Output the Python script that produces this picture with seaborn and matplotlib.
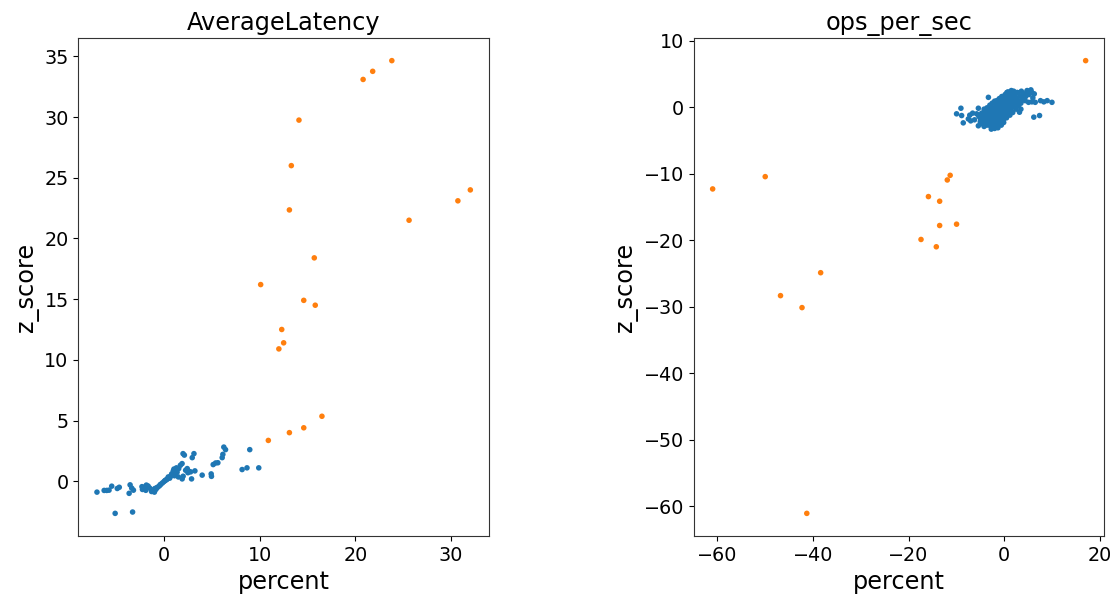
import matplotlib
matplotlib.use("Agg")
import matplotlib.pyplot as plt
import seaborn as sns
import pandas as pd

# ---------------- AverageLatency ----------------
lat_normal_x = [-7.0, -6.25, -5.98, -5.74, -5.46, -4.88, -4.67, -5.1, -3.64, -3.54,
                -3.37, -3.19, -3.28, -2.25, -2.08, -1.84, -1.66, -1.49, -1.2, -1.0,
                -0.85, -0.68, -0.5, -0.33, -0.16, 0.0, 0.17, 0.35, 0.52, 0.69,
                0.87, 0.97, 1.04, 1.2, 1.37, 1.54, 1.71, 1.89, 1.99, 2.13,
                1.9, 2.0, 2.26, 2.43, 2.6, 2.78, 2.88, 2.95, 3.13, 3.23,
                3.99, 4.93, 4.96, 5.14, 5.39, 5.63, 6.08, 6.15, 6.25, 6.43,
                8.96, 8.16, 8.67, 9.9, -1.3, -1.1, -0.95, -0.75, -0.4, 0.1,
                0.3, 0.6, 0.8, 1.1, 1.5, -2.3, -1.9, 0.45, 1.3, 2.5]
lat_normal_y = [-0.9, -0.76, -0.76, -0.74, -0.41, -0.6, -0.5, -2.65, -1.0, -0.3,
                -0.57, -0.74, -2.54, -0.68, -0.5, -0.32, -0.4, -0.57, -0.79, -0.9,
                -0.68, -0.5, -0.4, -0.25, -0.14, -0.03, 0.08, 0.19, 0.3, 0.41,
                0.57, 0.85, 1.0, 0.57, 0.74, 1.04, 1.31, 1.45, 2.27, 2.15,
                0.19, 0.41, 0.9, 1.04, 0.82, 0.77, 0.19, 1.94, 2.27, 0.85,
                0.5, 0.6, 0.4, 1.37, 1.5, 1.52, 1.94, 2.21, 2.81, 2.6,
                2.6, 0.96, 1.1, 1.1, -0.85, -0.7, -0.6, -0.55, -0.3, 0.05,
                0.15, 0.25, 0.6, 0.45, 0.35, -0.45, -0.75, 0.35, 1.1, 0.7]
lat_outlier_x = [23.8, 21.8, 20.8, 14.1, 13.3, 13.1, 32.0, 30.7, 25.6, 15.7,
                 10.1, 14.6, 15.8, 12.3, 12.5, 12.0, 10.9, 13.1, 14.6, 16.5]
lat_outlier_y = [34.65, 33.77, 33.1, 29.75, 26.0, 22.35, 24.0, 23.1, 21.5, 18.4,
                 16.2, 14.9, 14.5, 12.5, 11.4, 10.9, 3.36, 4.0, 4.4, 5.35]

# ---------------- ops_per_sec ----------------
ops_normal_x = [-9.96, -9.05, -8.9, -8.56, -7.5, -7.0, -5.75, -5.4, -5.4, -3.3,
                0.56, 2.67, 3.7, 4.8, 5.5, 5.8, 7.6, 8.3, 9.0, 10.0,
                3.2, 6.2, 7.4, 4.4, 5.1, 5.8, 6.5,
                -4.9, -4.6, -4.4, -4.2, -4.0, -3.9, -3.7, -3.6, -3.4, -3.3,
                -3.1, -3.0, -2.9, -2.8, -2.7, -2.6, -2.5, -2.4, -2.3, -2.2,
                -2.1, -2.0, -1.9, -1.8, -1.7, -1.6, -1.5, -1.4, -1.3, -1.2,
                -1.1, -1.0, -0.9, -0.8, -0.7, -0.6, -0.5, -0.4, -0.3, -0.2,
                -0.1, 0.0, 0.1, 0.2, 0.3, 0.4, 0.5, 0.6, 0.7, 0.8,
                0.9, 1.0, 1.1, 1.2, 1.3, 1.4, 1.5, 1.6, 1.7, 1.8,
                1.9, 2.0, 2.2, 2.4, 2.6, 2.8, 3.0, 3.3, 3.6, 3.9,
                4.2, 4.5, 4.8, 5.2, 5.6, 6.0, 6.3,
                -3.5, -2.6, -2.0, -1.5, -1.0, -0.5, 0.0, 0.5, 1.0, -3.8,
                -2.9, -1.9, -1.1, -0.2, 0.3, 1.5, -4.3, -3.2, -2.3, -1.6,
                -0.7, 0.8, 2.3, -5.3, -6.2, -6.6, -7.2,
                -3.0, -2.5, -2.0, -1.5, -1.0, -0.5, 0.2, 0.8, 1.5, -3.6,
                -4.2, -2.8, -1.8, -1.2, -0.6, 0.0, 0.6, 1.2, 2.0, 2.5,
                3.0, 3.5, 1.8, 1.2, 0.5, -0.1, -0.6, -1.3, -2.0, 3.5,
                -4.7, -3.3, -2.2, -1.4, -0.3, 1.0, 2.7, 4.0, -5.0, -2.7]
ops_normal_y = [-1.0, -0.16, -1.26, -2.36, -1.77, -2.06, -1.0, -0.16, -2.8, 1.48,
                2.2, 2.2, 1.7, 2.5, 2.5, 2.2, 0.98, 0.8, 0.98, 0.73,
                -0.76, -1.5, -1.26, 0.98, 0.73, 0.8, 0.73,
                -1.9, -2.5, -1.3, -2.9, -2.1, -0.8, -1.6, -2.7, -2.3, -1.2,
                -0.4, -1.9, -2.8, -1.5, -0.9, -2.2, -3.0, -1.7, -0.6, -2.5,
                -1.2, -2.0, -0.2, -1.6, -2.7, -0.9, -2.2, -1.4, 0.3, -1.9,
                -0.5, -2.4, -1.1, 0.1, -1.7, -0.7, -2.1, 0.5, -1.3, -0.3,
                -1.8, 0.8, -0.9, 0.2, -1.5, 1.2, -0.4, 0.6, -1.1, 1.5,
                0.0, 0.9, -0.6, 1.8, 0.4, 1.3, -0.2, 2.0, 0.8, 1.5,
                0.1, 1.1, 1.9, 0.6, 1.4, 2.2, 1.0, 1.7, 2.4, 1.3,
                2.0, 1.6, 2.4, 1.9, 2.6, 1.4, 2.0,
                -1.0, -1.3, -1.0, -0.4, -1.4, -0.9, -0.6, 0.1, 0.3, -2.4,
                -1.0, -2.6, -1.7, -1.4, 0.7, 0.9, -1.7, -2.5, -2.9, -1.8,
                -2.3, -0.5, 1.2, -1.4, -1.9, -0.9, -1.2,
                0.3, 0.6, 0.9, 1.0, 1.3, 1.6, 1.9, 2.3, 2.5, -0.1,
                -0.3, 0.1, 0.4, 0.7, 1.0, 1.4, 1.7, 2.1, 2.4, -0.3,
                0.2, 0.6, -0.8, -1.2, -1.6, -2.3, -2.7, -3.1, -3.2, -0.3,
                -0.9, -0.5, -0.2, -0.1, 0.3, 0.5, 0.9, 1.1, -2.2, -3.3]
ops_outlier_x = [17.05, -61.0, -50.0, -46.8, -42.3, -38.4, -41.3,
                 -11.3, -11.9, -15.85, -13.5, -13.5, -9.96, -17.4, -14.2]
ops_outlier_y = [7.0, -12.3, -10.45, -28.35, -30.15, -24.9, -61.1,
                 -10.25, -10.95, -13.45, -14.15, -17.8, -17.6, -19.9, -21.0]

titles = ["AverageLatency", "ops_per_sec"]


def make_df(nx, ny, ox, oy):
    return pd.DataFrame({
        "percent": list(nx) + list(ox),
        "z_score": list(ny) + list(oy),
        "group": ["normal"] * len(nx) + ["outlier"] * len(ox),
    })


frames = [make_df(lat_normal_x, lat_normal_y, lat_outlier_x, lat_outlier_y),
          make_df(ops_normal_x, ops_normal_y, ops_outlier_x, ops_outlier_y)]

plt.rcParams["font.family"] = ["DejaVu Sans"]
fig = plt.figure(figsize=(11.14, 5.98), dpi=100)
ax1 = fig.add_axes([78.3 / 1114, 1 - 536 / 598, (489 - 78.3) / 1114, (536 - 38) / 598])
ax2 = fig.add_axes([694 / 1114, 1 - 536 / 598, (1104.3 - 694) / 1114, (536 - 38) / 598])

palette = {"normal": "#1f77b4", "outlier": "#ff7f0e"}
for ax, df, title in zip([ax1, ax2], frames, titles):
    sns.scatterplot(data=df, x="percent", y="z_score", hue="group",
                    palette=palette, s=16, linewidth=0, legend=False, ax=ax)
    ax.set_title(title, fontsize=17.3)
    ax.set_xlabel("percent", fontsize=17.3)
    ax.set_ylabel("z_score", fontsize=17.3)
    ax.tick_params(labelsize=13.8)
    for sp in ax.spines.values():
        sp.set_color("#333333")

ax1.set_yticks([0, 5, 10, 15, 20, 25, 30, 35])
ax1.set_xticks([0, 10, 20, 30])
ax2.set_yticks([10, 0, -10, -20, -30, -40, -50, -60])
ax2.set_xticks([-60, -40, -20, 0, 20])

fig.savefig("out.png", dpi=100)
